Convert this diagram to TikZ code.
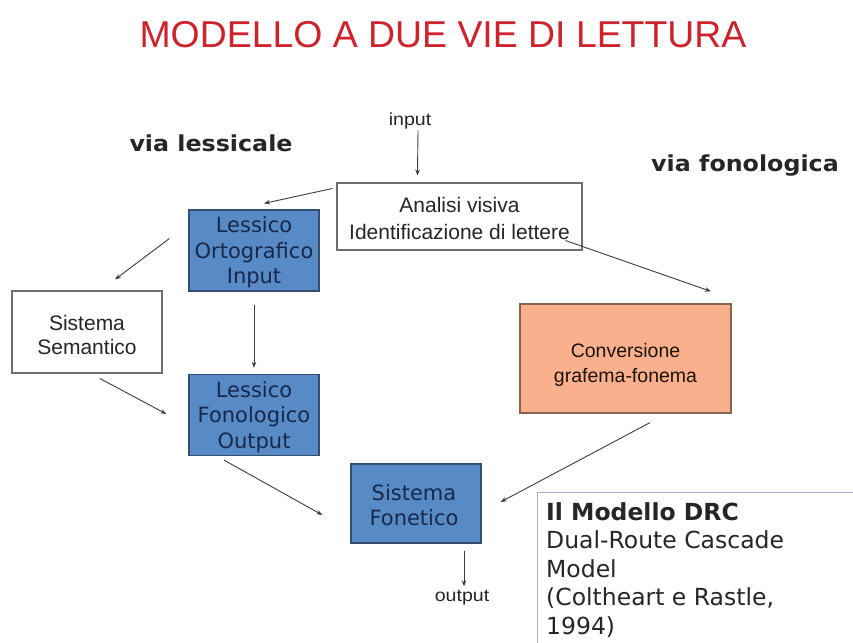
\documentclass[tikz,border=0pt]{standalone}
\usepackage{fontspec}
\setmainfont{Liberation Sans}
\newfontfamily\verd{DejaVu Sans}
\newfontfamily\verdw[FakeStretch=1.08]{DejaVu Sans}
\newfontfamily\sanw[FakeStretch=1.12]{Liberation Sans}
\usetikzlibrary{arrows.meta}
\definecolor{titlered}{RGB}{205,35,45}
\definecolor{boxblue}{RGB}{88,138,198}
\definecolor{boxblueline}{RGB}{50,78,115}
\definecolor{bluetext}{RGB}{22,40,75}
\definecolor{orfill}{RGB}{250,176,140}
\definecolor{orline}{RGB}{135,100,80}
\definecolor{greyline}{RGB}{110,110,110}
\definecolor{drcline}{RGB}{165,175,205}
\definecolor{arrowc}{RGB}{60,60,60}
\tikzset{
  x=1pt, y=-1pt,
  bluebox/.style={draw=boxblueline, line width=1.2pt, fill=boxblue,
    minimum width=130pt, minimum height=81pt, inner sep=0pt},
  bluetxt/.style={text=bluetext, inner sep=0pt, align=center,
    font=\verd\fontsize{21}{25.5}\selectfont},
  whitebox/.style={draw=greyline, line width=1.1pt, fill=white, inner sep=0pt},
  boxtxt/.style={inner sep=0pt, align=center, text=black!85,
    font=\fontsize{21}{25}\selectfont},
  conn/.style={draw=arrowc, line width=0.9pt, -{Stealth[length=6pt,width=4.5pt]}},
  smalltxt/.style={font=\sanw\fontsize{17.5}{20}\selectfont, text=black!85, inner sep=1pt},
  routetxt/.style={font=\verdw\bfseries\fontsize{22}{24}\selectfont, text=black!85}
}
\begin{document}
\begin{tikzpicture}
\useasboundingbox (0,0) rectangle (853,642);
\clip (0,0) rectangle (853,642);
\fill[white] (0,0) rectangle (853,642);

% title
\node[text=titlered, font=\fontsize{37.4}{40}\selectfont] (title) at (443,35) {MODELLO A DUE VIE DI LETTURA};

% route labels
\node[routetxt] (vl) at (211,143) {via lessicale};
\node[routetxt] (vf) at (745,166) {via fonologica};

% input / output
\node[smalltxt] (input) at (410,121) {input};
\node[smalltxt] (output) at (462,598) {output};

% boxes
\node[whitebox, minimum width=245pt, minimum height=67pt] (analisi) at (459.5,216.5) {};
\node[boxtxt, font=\fontsize{21}{27}\selectfont] (analisitxt) at (459.5,218.5)
  {Analisi visiva\\Identificazione di lettere};

\node[bluebox] (lo) at (254,250.5) {};
\node[bluetxt] (lotxt) at (254,252.5) {Lessico\\Ortografico\\Input};

\node[whitebox, minimum width=150pt, minimum height=82pt] (sem) at (87,332) {};
\node[boxtxt, font=\fontsize{21}{24}\selectfont] (semtxt) at (87,335) {Sistema\\Semantico};

\node[bluebox] (lf) at (254,415) {};
\node[bluetxt] (lftxt) at (254,417) {Lessico\\Fonologico\\Output};

\node[draw=orline, line width=1.2pt, fill=orfill, minimum width=211pt, minimum height=109pt,
  inner sep=0pt] (conv) at (625.5,358.5) {};
\node[boxtxt, text=black!85!brown, font=\fontsize{19.5}{25}\selectfont] (convtxt) at (625.5,364.5)
  {Conversione\\grafema-fonema};

\node[bluebox, minimum height=79pt] (fon) at (416,503.5) {};
\node[bluetxt] (fontxt) at (414,505) {Sistema\\Fonetico};

% DRC box (runs off the picture)
\node[draw=drcline, line width=1pt, fill=white, anchor=north west, minimum width=340pt,
  minimum height=170pt, inner sep=0pt] (drc) at (537,492) {};
\node[anchor=north west, align=left, inner sep=0pt, text=black!85,
  font=\verd\fontsize{23.5}{28.5}\selectfont] (drctext) at (546,502)
  {\textbf{Il Modello DRC}\\Dual-Route Cascade\\Model\\(Coltheart e Rastle,\\1994)};

% connectors
\draw[conn] ([shift={(8,0)}]input.south) -- ([shift={(81,-7)}]analisi.north west);
\draw[conn] ([shift={(-4,6)}]analisi.north west) -- ([shift={(10,-6)}]lo.north);
\draw[conn] ([shift={(-19,-12)}]lo.west) -- ([shift={(28,-11)}]sem.north);
\draw[conn] ([shift={(0,13)}]lo.south) -- ([shift={(0,-6)}]lf.north);
\draw[conn] ([shift={(13,5)}]sem.south) -- ([shift={(-22,-1)}]lf.west);
\draw[conn] ([shift={(-30,4)}]lf.south) -- ([shift={(-28,11.5)}]fon.west);
\draw[conn] ([shift={(-17,-10)}]analisi.south east) -- ([shift={(85.5,-12)}]conv.north);
\draw[conn] ([shift={(24.5,9)}]conv.south) -- ([shift={(19,-1.5)}]fon.east);
\draw[conn] ([shift={(48,7)}]fon.south) -- ([shift={(2,-3)}]output.north);
\end{tikzpicture}
\end{document}
